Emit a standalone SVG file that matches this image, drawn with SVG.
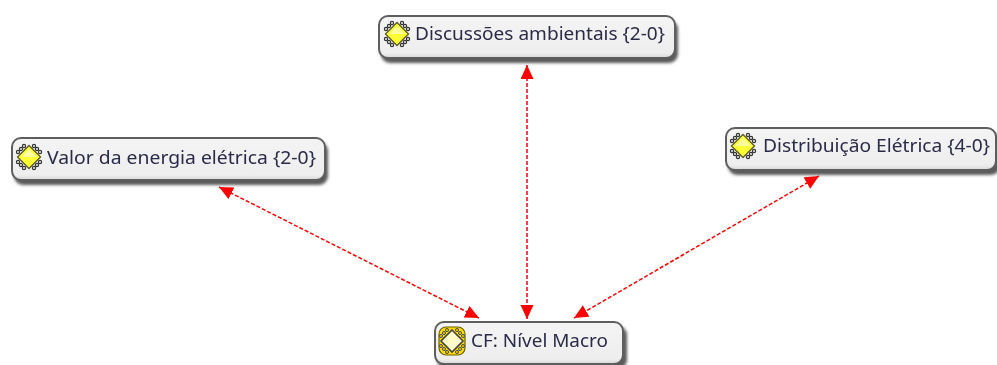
<svg xmlns="http://www.w3.org/2000/svg" width="997" height="365" viewBox="0 0 997 365">
<defs>
<linearGradient id="fill" x1="0" y1="0" x2="0" y2="1"><stop offset="0" stop-color="#f4f4f4"/><stop offset="0.88" stop-color="#eeeeee"/><stop offset="1" stop-color="#d8d8d8"/></linearGradient>
<filter id="blur" x="-5%" y="-20%" width="110%" height="140%"><feGaussianBlur stdDeviation="1.6"/></filter>
<filter id="soft" x="-5%" y="-20%" width="110%" height="140%"><feGaussianBlur stdDeviation="0.45"/></filter>
<marker id="head" markerUnits="userSpaceOnUse" markerWidth="16" markerHeight="14" refX="14" refY="6.5" orient="auto-start-reverse"><path d="M0,0 L14,6.5 L0,13 Z" fill="#ff0000"/></marker>
<g id="sat"><circle cx="-11" cy="-5" r="1.6"/><circle cx="-8" cy="-8" r="1.6"/><circle cx="-5" cy="-11" r="1.6"/><circle cx="11" cy="-5" r="1.6"/><circle cx="8" cy="-8" r="1.6"/><circle cx="5" cy="-11" r="1.6"/><circle cx="-11" cy="5" r="1.6"/><circle cx="-8" cy="8" r="1.6"/><circle cx="-5" cy="11" r="1.6"/><circle cx="11" cy="5" r="1.6"/><circle cx="8" cy="8" r="1.6"/><circle cx="5" cy="11" r="1.6"/></g>
<g id="icon"><use href="#sat" fill="#f0f0f0" stroke="#333" stroke-width="1.2"/><path d="M0,-11.5 L11.5,0 L0,11.5 L-11.5,0 Z" fill="#ffff33" stroke="#5a5a20" stroke-width="1.3"/><path d="M0,-8 L8,0 L-8,0 Z" fill="#ffffa0"/></g>
<g id="iconcf"><rect x="-13" y="-14" width="26" height="28" rx="7" fill="#ffdd00" stroke="#6a6000" stroke-width="1.2"/><use href="#sat" fill="#e0c000" stroke="#555" stroke-width="1"/><path d="M0,-11 L11,0 L0,11 L-11,0 Z" fill="#fffbc8" stroke="#444" stroke-width="1.6"/></g>
</defs>
<style>
.shadow{fill:#5a5a5a;filter:url(#blur)}
.box{fill:url(#fill);stroke:#5e5e5e;stroke-width:2}
.lbl{font-family:"Noto Sans","Open Sans","Liberation Sans",sans-serif;font-size:18px;fill:#2a2a48;filter:url(#soft)}
.link{stroke:#ff0000;stroke-width:1.5;stroke-dasharray:4 2;fill:none;marker-start:url(#head);marker-end:url(#head)}
</style>
<rect width="997" height="365" fill="#ffffff"/>
<g id="connectors">
<line class="link" x1="527" y1="65" x2="527" y2="319"/>
<line class="link" x1="219" y1="187" x2="479" y2="318"/>
<line class="link" x1="819" y1="176" x2="574" y2="318"/>
</g>
<g id="node-discussoes">
<rect class="shadow" x="381" y="20" width="297" height="43" rx="9"/>
<rect class="box" x="379" y="16" width="296" height="42" rx="9"/>
<use href="#icon" x="397" y="34"/>
<text class="lbl" x="415" y="40" textLength="250" lengthAdjust="spacingAndGlyphs">Discussões ambientais {2-0}</text>
</g>
<g id="node-valor">
<rect class="shadow" x="14" y="142" width="314" height="43" rx="9"/>
<rect class="box" x="12" y="138" width="313" height="42" rx="9"/>
<use href="#icon" x="29" y="157"/>
<text class="lbl" x="47" y="164" textLength="269" lengthAdjust="spacingAndGlyphs">Valor da energia elétrica {2-0}</text>
</g>
<g id="node-distribuicao">
<rect class="shadow" x="728" y="132" width="272" height="43" rx="9"/>
<rect class="box" x="726" y="128" width="270" height="42" rx="9"/>
<use href="#icon" x="743" y="146"/>
<text class="lbl" x="763" y="152" textLength="227" lengthAdjust="spacingAndGlyphs">Distribuição Elétrica {4-0}</text>
</g>
<g id="node-cf">
<rect class="shadow" x="437" y="326" width="190" height="43" rx="9"/>
<rect class="box" x="435" y="322" width="188" height="42" rx="9"/>
<use href="#iconcf" x="452" y="341"/>
<text class="lbl" x="471" y="347" textLength="137" lengthAdjust="spacingAndGlyphs">CF: Nível Macro</text>
</g>
</svg>
